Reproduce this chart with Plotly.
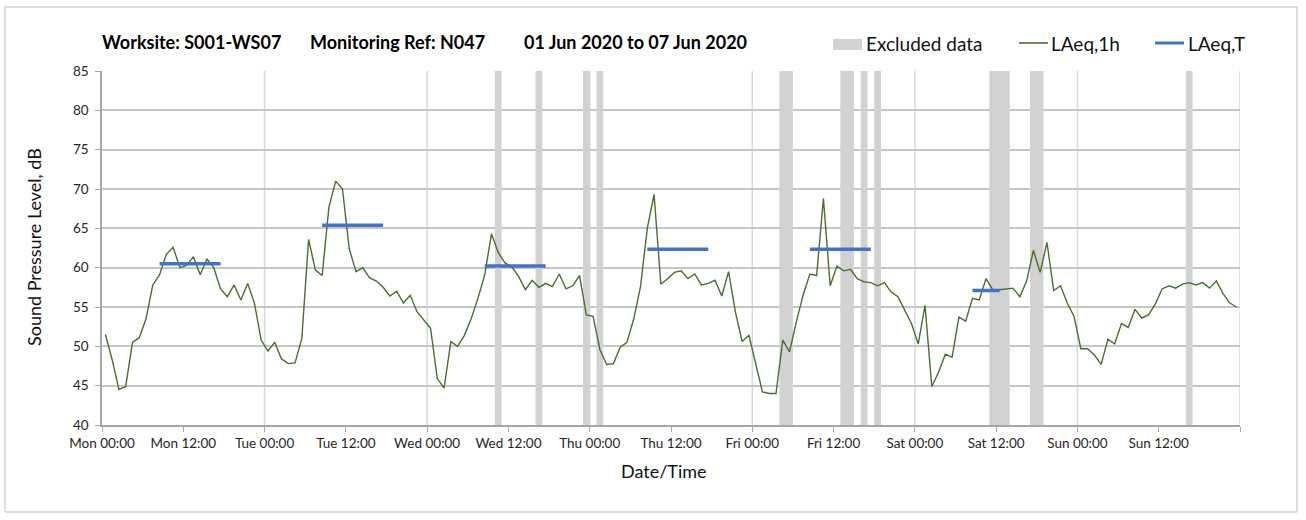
import plotly.graph_objects as go

# ---------------- data ----------------
# hourly LAeq,1h values, Mon 00:00 .. Sun 23:00 (168 hours)
laeq_1h = [
    51.5, 48.3, 44.5, 44.9, 50.5, 51.1, 53.5, 57.8, 59.1, 61.7, 62.6, 60.0,
    60.3, 61.4, 59.1, 61.1, 60.0, 57.3, 56.3, 57.8, 55.9, 58.0, 55.5, 50.8,
    49.4, 50.5, 48.4, 47.8, 47.9, 51.0, 63.6, 59.7, 59.0, 67.7, 71.0, 70.0,
    62.4, 59.5, 60.0, 58.7, 58.3, 57.5, 56.4, 57.0, 55.5, 56.5, 54.4, 53.3,
    52.3, 45.9, 44.7, 50.6, 50.0, 51.4, 53.5, 56.1, 59.1, 64.3, 61.9, 60.6,
    60.1, 58.9, 57.2, 58.4, 57.5, 58.0, 57.6, 59.2, 57.3, 57.7, 59.0, 54.0,
    53.8, 49.6, 47.7, 47.8, 49.9, 50.5, 53.5, 57.6, 65.0, 69.3, 57.9, 58.6,
    59.4, 59.6, 58.6, 59.2, 57.8, 58.0, 58.4, 56.4, 59.5, 54.4, 50.6, 51.4,
    47.8, 44.2, 44.0, 44.0, 50.8, 49.3, 53.1, 56.5, 59.2, 59.0, 68.8, 57.7,
    60.2, 59.6, 59.8, 58.6, 58.2, 58.1, 57.7, 58.1, 56.9, 56.3, 54.6, 52.9,
    50.3, 55.2, 44.9, 46.7, 49.0, 48.6, 53.7, 53.2, 56.1, 55.9, 58.6, 57.2,
    57.2, 57.3, 57.4, 56.3, 58.3, 62.2, 59.4, 63.2, 57.1, 57.7, 55.5, 53.8,
    49.7, 49.7, 48.9, 47.7, 50.9, 50.3, 52.9, 52.4, 54.7, 53.6, 54.0, 55.4,
    57.3, 57.7, 57.4, 57.9, 58.1, 57.8, 58.1, 57.4, 58.3, 56.7, 55.5, 55.0,
]
hours = list(range(len(laeq_1h)))

# LAeq,T assessment periods (start hour, end hour, level)
period_start = [8, 32, 56, 80, 104, 128]
period_end = [18, 42, 66, 90, 114, 133]
laeq_t = [60.5, 65.4, 60.2, 62.35, 62.35, 57.1]

# excluded hours (hour index from Mon 00:00)
excluded_hours = [58, 64, 71, 73, 100, 101, 109, 110, 112, 114,
                  131, 132, 133, 137, 138, 160]

# axis ticks
tick_hours = [0, 12, 24, 36, 48, 60, 72, 84, 96, 108, 120, 132, 144, 156, 168]
tick_labels = ["Mon 00:00", "Mon 12:00", "Tue 00:00", "Tue 12:00", "Wed 00:00",
               "Wed 12:00", "Thu 00:00", "Thu 12:00", "Fri 00:00", "Fri 12:00",
               "Sat 00:00", "Sat 12:00", "Sun 00:00", "Sun 12:00", ""]
day_lines = [24, 48, 72, 96, 120, 144, 168]

title_parts = ["Worksite: S001-WS07", "Monitoring Ref: N047",
               "01 Jun 2020 to 07 Jun 2020"]

# ---------------- layout geometry (pixels) ----------------
W, H = 1306, 520
PL, PR, PT, PB = 102, 1240, 71, 425


def px(x):
    return (x - PL) / (PR - PL)


def py(y):
    return (PB - y) / (PB - PT)


FONT = "Lato"
GREEN = "#4b6e2c"
BLUE = "#4472C4"
GREY = "#d2d2d2"

# merge consecutive excluded hours into continuous bands
runs = []
for h in excluded_hours:
    if runs and h == runs[-1][1]:
        runs[-1][1] = h + 1
    else:
        runs.append([h, h + 1])

fig = go.Figure()

# excluded data bars
fig.add_trace(go.Bar(
    x=[(a + b) / 2 for a, b in runs],
    y=[45] * len(runs),
    base=40,
    width=[b - a for a, b in runs],
    marker=dict(color=GREY, line=dict(width=0)),
    name="Excluded data",
    hoverinfo="skip",
))

# LAeq,1h line
fig.add_trace(go.Scatter(
    x=[h + 0.5 for h in hours],
    y=laeq_1h,
    mode="lines",
    line=dict(color=GREEN, width=1.4),
    name="LAeq,1h",
))

# LAeq,T segments
tx, ty = [], []
for s, e, v in zip(period_start, period_end, laeq_t):
    tx += [s + 0.5, e - 0.5, None]
    ty += [v, v, None]
fig.add_trace(go.Scatter(
    x=tx, y=ty, mode="lines",
    line=dict(color=BLUE, width=3.5),
    name="LAeq,T", connectgaps=False,
))

shapes = []
# vertical day gridlines
for d in day_lines:
    shapes.append(dict(type="line", xref="x", yref="y", x0=d, x1=d, y0=40, y1=85,
                       line=dict(color="#d9d9d9", width=1.5), layer="below"))
# outer border
shapes.append(dict(type="rect", xref="paper", yref="paper",
                   x0=px(5), x1=px(1297), y0=py(512), y1=py(7),
                   line=dict(color="#bdbdbd", width=1), layer="below"))
# legend symbols
shapes.append(dict(type="rect", xref="paper", yref="paper",
                   x0=px(833), x1=px(862), y0=py(50), y1=py(39),
                   line=dict(width=0), fillcolor=GREY))
shapes.append(dict(type="line", xref="paper", yref="paper",
                   x0=px(1019), x1=px(1048), y0=py(43), y1=py(43),
                   line=dict(color=GREEN, width=1.6)))
shapes.append(dict(type="line", xref="paper", yref="paper",
                   x0=px(1155), x1=px(1184), y0=py(43), y1=py(43),
                   line=dict(color=BLUE, width=3)))

annotations = []
for txt, xl in zip(title_parts, [100, 308, 522]):
    annotations.append(dict(text="<b>%s</b>" % txt, xref="paper", yref="paper",
                            x=px(xl), y=py(42), xanchor="left", yanchor="middle",
                            showarrow=False, font=dict(family=FONT, size=18, color="#000")))
for txt, xl in zip(["Excluded data", "LAeq,1h", "LAeq,T"], [864, 1049, 1186]):
    annotations.append(dict(text=txt, xref="paper", yref="paper",
                            x=px(xl), y=py(43), xanchor="left", yanchor="middle",
                            showarrow=False, font=dict(family=FONT, size=19, color="#111")))
annotations.append(dict(text="Sound Pressure Level, dB", xref="paper", yref="paper",
                        x=px(34), y=py(247), xanchor="center", yanchor="middle",
                        textangle=-90, showarrow=False,
                        font=dict(family=FONT, size=18, color="#111")))
annotations.append(dict(text="Date/Time", xref="paper", yref="paper",
                        x=px(664), y=py(471), xanchor="center", yanchor="middle",
                        showarrow=False, font=dict(family=FONT, size=18, color="#111")))

fig.update_layout(
    width=W, height=H,
    margin=dict(l=PL, r=W - PR, t=PT, b=H - PB, pad=0),
    paper_bgcolor="white", plot_bgcolor="white",
    showlegend=False,
    shapes=shapes, annotations=annotations,
    font=dict(family=FONT, size=13, color="#262626"),
    xaxis=dict(range=[0, 168], tickmode="array", tickvals=tick_hours, ticktext=tick_labels,
               showgrid=False, zeroline=False, showline=True, linecolor="#a6a6a6", linewidth=1.5,
               ticks="outside", ticklen=5, tickcolor="#a6a6a6", tickwidth=1.2,
               tickfont=dict(family=FONT, size=13.5, color="#262626")),
    yaxis=dict(range=[40, 85], dtick=5, tick0=40, showgrid=True, gridcolor="#c6c6c6", gridwidth=1.5,
               zeroline=False, showline=True, linecolor="#a6a6a6", linewidth=1.5,
               ticks="outside", ticklen=5, tickcolor="#a6a6a6", tickwidth=1.2,
               ticklabelstandoff=4,
               tickfont=dict(family=FONT, size=13.5, color="#262626")),
)

fig.write_html("out.html", config={"displayModeBar": False},
               post_script="document.body.style.margin='0';")
